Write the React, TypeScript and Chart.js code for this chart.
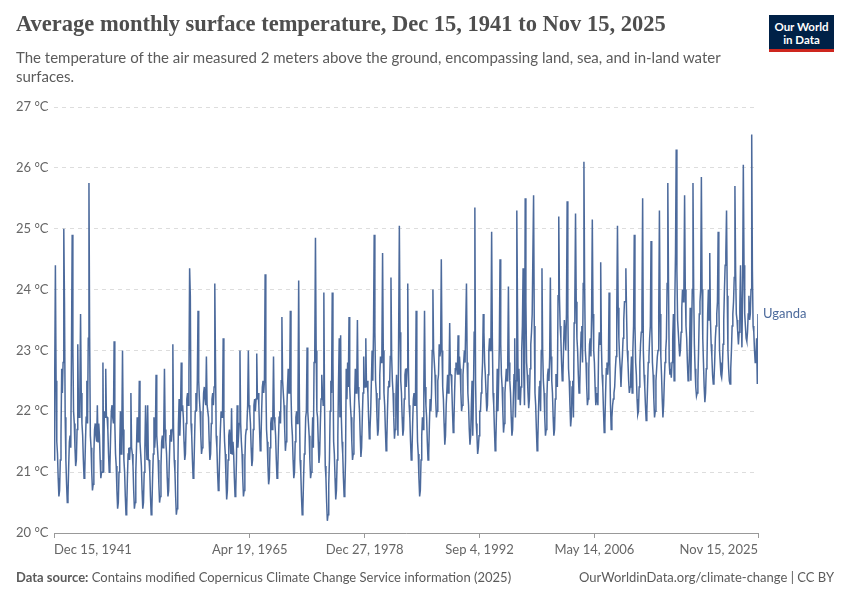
import React, { useEffect, useRef } from "react";
import { Chart, registerables } from "chart.js";

Chart.register(...registerables);

// Monthly values (°C), Dec 1941 – Nov 2025
const temps1940s = [
  21.2,
  22.5, 24.4, 22.5, 21.5, 21.3, 20.9, 20.6, 20.7, 21.2, 21.6, 22.7, 22.3,
  22.8, 25.0, 23.8, 21.9, 21.2, 20.8, 20.5, 20.6, 21.1, 21.5, 21.6, 21.4,
  23.0, 24.9, 23.0, 22.0, 21.8, 21.4, 21.1, 21.2, 21.7, 23.1, 22.0, 21.9,
  22.3, 23.6, 22.3, 21.8, 21.6, 21.2, 20.9, 21.0, 21.5, 21.9, 22.5, 21.8,
  23.2, 25.75, 23.2, 21.6, 21.4, 21.0, 20.7, 20.8, 21.3, 21.7, 21.8, 21.6,
  21.5, 22.1, 21.5, 21.8, 21.6, 21.2, 20.9, 21.0, 21.0, 22.8, 21.0, 22.0,
  21.9, 22.7, 21.9, 21.9, 21.7, 21.3, 21.0, 21.1, 21.6, 22.0, 22.1, 21.9,
  21.8, 23.15, 21.8, 21.3, 21.1, 20.7, 20.4, 20.5, 21.0, 21.4, 22.0, 21.3,
];
const temps1950s = [
  21.7, 23.0, 21.7, 21.2, 21.0, 20.6, 20.3, 20.4, 20.9, 21.3, 21.4, 21.2,
  21.4, 22.3, 21.4, 21.3, 21.1, 20.7, 20.4, 20.5, 21.0, 21.4, 21.9, 21.5,
  21.5, 22.5, 21.5, 21.3, 21.1, 20.7, 20.4, 20.5, 21.0, 21.4, 22.1, 21.5,
  21.2, 22.1, 21.2, 21.2, 21.0, 20.6, 20.3, 20.4, 20.9, 21.3, 21.9, 21.4,
  21.6, 22.6, 21.6, 21.4, 21.2, 20.8, 20.5, 20.6, 21.1, 21.5, 21.6, 21.4,
  21.7, 22.7, 21.7, 21.5, 21.3, 20.9, 20.6, 20.7, 21.2, 21.6, 21.7, 21.5,
  21.7, 23.1, 21.7, 21.2, 21.0, 20.6, 20.3, 20.4, 20.9, 21.8, 22.2, 21.6,
  22.0, 22.8, 22.0, 22.1, 21.9, 21.5, 21.2, 21.3, 21.8, 22.2, 22.3, 22.1,
  22.6, 24.35, 23.9, 21.8, 21.6, 21.2, 20.9, 21.0, 21.5, 22.0, 22.3, 22.0,
  22.5, 23.65, 22.5, 22.2, 22.0, 21.6, 21.3, 21.4, 21.9, 22.3, 22.4, 22.2,
];
const temps1960s = [
  22.1, 22.9, 22.1, 22.1, 21.9, 21.5, 21.2, 21.3, 21.8, 22.2, 22.3, 22.1,
  22.4, 24.1, 22.8, 21.6, 21.4, 21.0, 20.7, 20.8, 21.3, 21.7, 22.0, 21.9,
  21.9, 23.2, 21.9, 21.5, 21.3, 20.9, 20.55, 20.7, 21.2, 21.6, 21.7, 21.5,
  21.3, 22.05, 21.3, 21.5, 21.3, 20.9, 20.6, 20.7, 21.2, 22.1, 21.4, 21.6,
  21.8, 23.0, 21.8, 21.5, 21.3, 20.9, 20.6, 20.7, 21.2, 21.6, 21.7, 21.8,
  22.1, 23.0, 22.1, 22.0, 21.8, 21.4, 21.1, 21.2, 21.7, 22.1, 22.2, 22.0,
  22.2, 22.95, 22.2, 22.3, 22.1, 21.7, 21.35, 21.5, 22.0, 22.4, 22.5, 22.3,
  22.5, 24.25, 22.5, 21.7, 21.5, 21.1, 20.8, 20.9, 21.4, 21.8, 21.9, 21.7,
  21.9, 22.9, 21.9, 21.8, 21.6, 21.2, 20.9, 21.0, 21.5, 21.9, 22.0, 21.8,
  22.5, 23.55, 22.5, 22.3, 22.1, 21.7, 21.35, 21.5, 22.0, 22.4, 22.7, 22.3,
];
const temps1970s = [
  22.3, 23.65, 22.3, 21.8, 21.6, 21.2, 20.9, 21.0, 21.5, 21.9, 22.0, 21.8,
  22.2, 24.15, 22.2, 21.2, 21.0, 20.6, 20.3, 20.4, 20.9, 21.3, 21.4, 21.9,
  22.0, 23.05, 22.0, 21.8, 21.6, 21.2, 20.9, 21.0, 21.5, 21.9, 21.4, 22.8,
  23.0, 24.85, 23.0, 22.0, 21.9, 21.5, 21.15, 21.3, 21.8, 22.2, 22.6, 22.3,
  22.1, 23.95, 22.1, 21.1, 20.9, 20.5, 20.2, 20.3, 20.8, 21.2, 22.0, 22.5,
  22.3, 23.95, 22.8, 21.5, 21.3, 20.9, 20.55, 20.7, 21.2, 21.6, 22.5, 23.2,
  21.9, 23.25, 21.9, 21.5, 21.3, 20.9, 20.6, 20.7, 21.2, 22.7, 22.2, 22.8,
  22.4, 23.55, 22.4, 22.1, 21.9, 21.5, 21.2, 21.3, 21.8, 22.2, 22.7, 22.3,
  22.4, 23.5, 22.4, 22.2, 22.0, 21.6, 21.25, 21.4, 21.9, 22.3, 22.9, 22.4,
  22.4, 23.2, 22.4, 22.5, 22.3, 21.9, 21.55, 21.7, 22.0, 22.5, 23.0, 22.5,
];
const temps1980s = [
  23.3, 24.9, 23.3, 22.5, 22.3, 21.9, 21.6, 21.7, 22.2, 22.6, 22.9, 22.8,
  23.0, 24.6, 23.0, 22.3, 22.1, 21.7, 21.35, 21.5, 22.0, 22.4, 22.5, 22.4,
  22.9, 24.2, 22.9, 22.5, 22.3, 21.9, 21.55, 21.7, 22.2, 22.6, 22.1, 21.6,
  23.3, 25.05, 23.3, 22.5, 22.3, 21.9, 21.6, 21.7, 22.2, 22.6, 22.7, 22.4,
  22.7, 24.1, 22.7, 22.1, 21.9, 21.5, 21.2, 21.3, 21.8, 22.2, 22.3, 22.1,
  22.1, 23.65, 22.1, 21.5, 21.3, 20.9, 20.6, 20.7, 21.2, 21.6, 21.9, 21.7,
  22.4, 23.65, 22.4, 22.1, 21.9, 21.5, 21.2, 21.3, 21.8, 22.2, 22.0, 22.3,
  23.0, 24.0, 23.0, 22.8, 22.6, 22.2, 21.9, 22.0, 22.5, 22.6, 23.1, 22.9,
  23.0, 24.5, 23.0, 22.4, 22.2, 21.8, 21.45, 21.6, 22.1, 22.1, 22.6, 22.3,
  22.6, 23.45, 22.6, 22.6, 22.4, 22.0, 21.65, 21.8, 22.3, 22.7, 22.8, 22.7,
];
const temps1990s = [
  22.6, 23.25, 22.6, 22.9, 22.7, 22.3, 22.0, 22.1, 22.6, 22.8, 23.0, 22.8,
  22.8, 24.1, 22.8, 22.3, 22.1, 21.7, 21.45, 21.6, 22.1, 22.5, 21.6, 22.3,
  23.3, 25.35, 22.5, 21.8, 21.6, 21.3, 21.4, 21.6, 22.0, 22.0, 22.3, 22.5,
  22.8, 23.6, 23.3, 22.8, 22.6, 22.3, 22.0, 22.1, 22.6, 23.0, 23.2, 23.0,
  23.2, 24.95, 23.2, 22.3, 22.1, 21.7, 21.35, 21.5, 22.0, 22.7, 22.0, 22.5,
  23.1, 24.5, 23.1, 22.6, 22.4, 22.0, 21.65, 21.8, 22.3, 22.5, 22.7, 22.5,
  22.8, 24.05, 22.8, 22.5, 22.3, 21.9, 21.6, 21.7, 22.2, 22.6, 23.2, 21.9,
  22.5, 25.3, 23.7, 22.2, 22.7, 22.3, 22.1, 22.4, 23.0, 23.4, 24.35, 22.6,
  22.1, 25.5, 23.8, 22.8, 22.6, 22.3, 22.05, 22.2, 22.7, 23.1, 23.3, 23.6,
  23.6, 25.55, 23.4, 22.3, 22.1, 21.7, 21.35, 21.5, 22.0, 22.4, 22.5, 22.0,
];
const temps2000s = [
  23.0, 24.35, 23.0, 22.5, 22.3, 21.9, 21.6, 21.7, 22.2, 22.6, 22.7, 22.5,
  22.9, 24.2, 22.9, 22.5, 22.3, 21.9, 21.6, 21.7, 22.2, 22.6, 22.6, 22.4,
  23.9, 25.2, 23.9, 23.4, 23.2, 22.8, 22.5, 22.6, 23.1, 23.5, 23.3, 23.0,
  23.6, 25.45, 23.6, 22.7, 22.5, 22.1, 21.75, 21.9, 22.4, 22.5, 21.9, 23.45,
  23.8, 25.25, 23.8, 23.2, 23.0, 22.6, 22.3, 22.4, 22.9, 23.3, 23.4, 22.8,
  24.1, 26.1, 24.1, 23.0, 22.8, 22.4, 22.1, 22.2, 22.7, 23.1, 23.2, 22.9,
  23.6, 25.15, 23.6, 23.0, 22.8, 22.4, 22.1, 22.2, 22.3, 22.1, 23.0, 23.3,
  23.1, 24.45, 23.1, 22.6, 22.4, 22.0, 21.65, 21.8, 22.3, 22.7, 22.8, 22.6,
  22.8, 23.95, 22.8, 22.1, 21.7, 21.9, 22.1, 22.2, 22.3, 22.4, 22.7, 22.9,
  23.7, 25.05, 23.7, 23.2, 22.9, 22.7, 22.4, 22.7, 22.9, 23.2, 23.5, 23.8,
];
const temps2010s = [
  23.8, 24.35, 23.6, 23.0, 22.8, 22.5, 22.3, 22.4, 22.6, 22.9, 22.3, 23.0,
  23.4, 24.9, 23.4, 22.8, 22.6, 22.2, 21.95, 22.0, 22.4, 22.8, 23.1, 23.3,
  23.7, 25.5, 23.0, 22.6, 22.4, 22.1, 21.85, 22.0, 22.4, 22.8, 22.9, 23.2,
  23.4, 24.8, 23.4, 22.8, 22.6, 22.2, 21.9, 22.0, 22.5, 22.7, 22.9, 23.0,
  23.6, 25.3, 23.6, 22.9, 22.6, 22.2, 21.9, 22.1, 22.5, 22.8, 23.0, 23.2,
  24.1, 25.75, 24.1, 22.8, 22.6, 22.7, 22.55, 22.8, 23.2, 23.6, 22.5, 23.8,
  24.6, 26.3, 24.3, 23.5, 23.3, 23.1, 22.9, 23.0, 23.3, 23.7, 24.0, 23.8,
  24.0, 25.55, 24.0, 23.4, 23.2, 22.8, 22.5, 22.6, 23.0, 23.7, 22.5, 23.3,
  24.0, 25.75, 24.0, 23.1, 22.7, 22.4, 22.25, 22.3, 22.5, 23.0, 23.6, 23.8,
  24.0, 25.85, 24.0, 23.2, 22.8, 22.4, 22.15, 22.3, 22.7, 22.8, 23.6, 24.0,
];
const temps2020s = [
  23.5, 24.6, 23.5, 23.1, 22.9, 22.6, 22.45, 22.5, 22.8, 23.2, 23.4, 23.6,
  23.8, 24.95, 23.8, 23.0, 22.8, 22.6, 22.55, 22.7, 23.1, 23.5, 24.0, 24.4,
  24.6, 25.3, 23.9, 23.0, 22.7, 22.5, 22.45, 22.7, 23.0, 23.4, 23.6, 23.8,
  24.2, 25.7, 24.3, 23.6, 23.5, 23.3, 23.1, 23.3, 23.7, 24.4, 23.6, 23.05,
  24.0, 26.05, 24.4, 23.6, 23.4, 23.2, 23.15, 23.3, 23.6, 23.9, 23.5, 23.6,
  24.0, 26.55, 24.3, 23.4, 23.3, 23.0, 22.8, 22.9, 23.2, 22.45, 23.6,
];

// x positions are months since Dec 15, 1941
const tickMonths = [0, 280.1, 444.4, 608.7, 773, 1007];
const tickLabels = ["Dec 15, 1941", "Apr 19, 1965", "Dec 27, 1978", "Sep 4, 1992", "May 14, 2006", "Nov 15, 2025"];
const yTickValues = [20, 21, 22, 23, 24, 25, 26, 27];
const seriesName = "Uganda";

const LINE = "#4c6a9c";
const FONT = "Lato, 'Noto Sans', sans-serif";

export default function App() {
  const ref = useRef<HTMLCanvasElement | null>(null);

  useEffect(() => {
    const temps = [
      ...temps1940s, ...temps1950s, ...temps1960s, ...temps1970s, ...temps1980s,
      ...temps1990s, ...temps2000s, ...temps2010s, ...temps2020s,
    ];
    const points = temps.map((v, i) => ({ x: i, y: v }));

    const endLabel = {
      id: "endLabel",
      afterDatasetsDraw(chart: any) {
        const meta = chart.getDatasetMeta(0);
        const last = meta.data[meta.data.length - 1];
        const ctx = chart.ctx;
        ctx.save();
        ctx.font = `13px ${FONT}`;
        ctx.fillStyle = LINE;
        ctx.textBaseline = "middle";
        ctx.textAlign = "left";
        ctx.fillText(seriesName, chart.chartArea.right + 5, last.y);
        ctx.restore();
      },
    };

    const chart = new Chart(ref.current as HTMLCanvasElement, {
      type: "line",
      data: {
        datasets: [
          {
            label: seriesName,
            data: points,
            borderColor: LINE,
            borderWidth: 1.5,
            pointRadius: 0,
            tension: 0,
            fill: false,
          },
        ],
      },
      options: {
        animation: false,
        responsive: false,
        maintainAspectRatio: false,
        layout: { padding: { top: 107, left: 16, right: 92, bottom: 38 } },
        plugins: { legend: { display: false }, tooltip: { enabled: false } },
        scales: {
          x: {
            type: "linear",
            min: 0,
            max: 1007,
            afterBuildTicks: (s: any) => {
              s.ticks = tickMonths.map((v) => ({ value: v }));
            },
            afterFit: (s: any) => {
              s.height = 29;
            },
            ticks: {
              autoSkip: false,
              maxRotation: 0,
              align: "inner",
              padding: 4,
              color: "#666",
              font: { family: FONT, size: 13 },
              callback: (v: any) => {
                const i = tickMonths.indexOf(Number(v));
                return i >= 0 ? tickLabels[i] : "";
              },
            },
            grid: { drawOnChartArea: false, drawTicks: true, tickLength: 5, color: "#999" },
            border: { display: true, color: "#999" },
          },
          y: {
            min: 20,
            max: 27,
            afterBuildTicks: (s: any) => {
              s.ticks = yTickValues.map((v) => ({ value: v }));
            },
            afterFit: (s: any) => {
              s.width = 38;
            },
            ticks: {
              crossAlign: "far",
              padding: 4,
              color: "#666",
              font: { family: FONT, size: 13 },
              callback: (v: any) => `${v} °C`,
            },
            grid: { color: "#dddddd", drawTicks: false, lineWidth: 1 },
            border: { display: false, dash: [4, 4] },
          },
        },
      },
      plugins: [endLabel],
    } as any);

    return () => chart.destroy();
  }, []);

  return (
    <div
      style={{
        position: "fixed",
        top: 0,
        left: 0,
        width: 850,
        height: 600,
        background: "#fff",
        overflow: "hidden",
      }}
    >
      <canvas ref={ref} width={850} height={600} style={{ position: "absolute", left: 0, top: 0, width: 850, height: 600 }} />
      <div
        style={{
          position: "absolute",
          left: 16,
          top: 11,
          fontFamily: "'Liberation Serif', 'DejaVu Serif', serif",
          fontWeight: 700,
          fontSize: 22.5,
          lineHeight: "26px",
          color: "#4e4e4e",
          whiteSpace: "nowrap",
        }}
      >
        Average monthly surface temperature, Dec 15, 1941 to Nov 15, 2025
      </div>
      <div
        style={{
          position: "absolute",
          left: 16,
          top: 48,
          width: 735,
          fontFamily: FONT,
          fontSize: 15,
          lineHeight: "19px",
          color: "#5b5b5b",
        }}
      >
        The temperature of the air measured 2 meters above the ground, encompassing land, sea, and in-land water surfaces.
      </div>
      <div
        style={{
          position: "absolute",
          left: 769,
          top: 15,
          width: 65,
          height: 37,
          background: "#002147",
          color: "#fff",
          fontFamily: FONT,
          fontWeight: 700,
          fontSize: 11.5,
          lineHeight: "13px",
          textAlign: "center",
          display: "flex",
          flexDirection: "column",
          justifyContent: "center",
          boxSizing: "border-box",
          borderBottom: "3px solid #ce261e",
          paddingTop: 1,
        }}
      >
        <span>Our World</span>
        <span>in Data</span>
      </div>
      <div
        style={{
          position: "absolute",
          left: 16,
          top: 568,
          fontFamily: FONT,
          fontSize: 13,
          lineHeight: "18px",
          color: "#5b5b5b",
          whiteSpace: "nowrap",
        }}
      >
        <b>Data source:</b> Contains modified Copernicus Climate Change Service information (2025)
      </div>
      <div
        style={{
          position: "absolute",
          right: 16,
          top: 568,
          fontFamily: FONT,
          fontSize: 13,
          lineHeight: "18px",
          color: "#5b5b5b",
          whiteSpace: "nowrap",
        }}
      >
        OurWorldinData.org/climate-change | CC BY
      </div>
    </div>
  );
}
